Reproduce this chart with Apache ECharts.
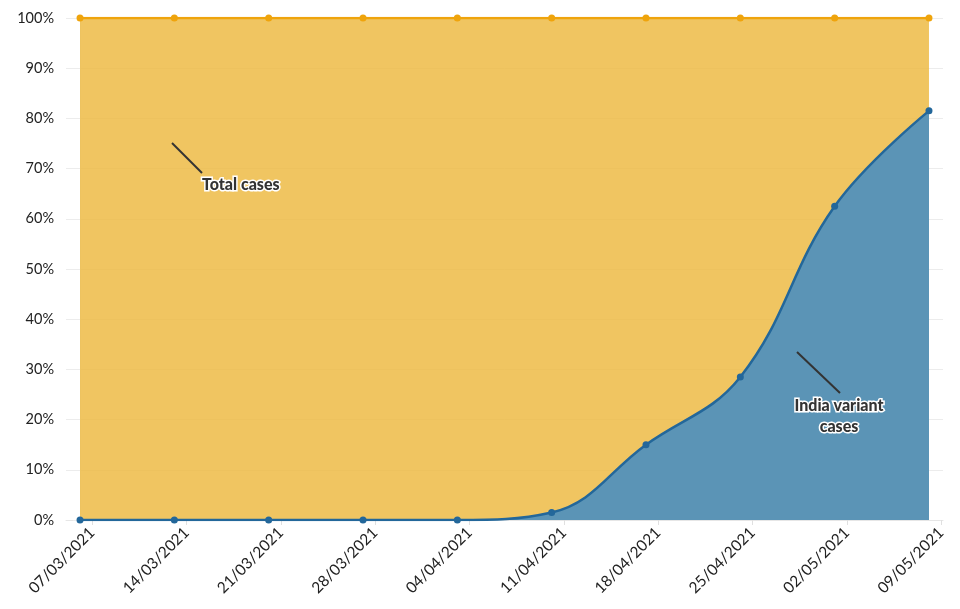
<!DOCTYPE html>
<html><head><meta charset="utf-8">
<script src="https://cdn.jsdelivr.net/npm/echarts@6/dist/echarts.min.js"></script>
<style>html,body{margin:0;padding:0;background:#fff}#c{width:960px;height:609px}</style>
</head><body><div id="c"></div>
<script>
const dates = ['07/03/2021','14/03/2021','21/03/2021','28/03/2021','04/04/2021','11/04/2021','18/04/2021','25/04/2021','02/05/2021','09/05/2021'];
const totalCases = [100,100,100,100,100,100,100,100,100,100];
const indiaVariant = [0,0,0,0,0,1.5,15,28.5,62.5,81.5];
const yTicks = [0,10,20,30,40,50,60,70,80,90,100];

const dayOf = i => i * 7;
const tickShift = 0.9;
const tickVals = dates.map((d, i) => dayOf(i) + tickShift);
const font = 'Lato, "Noto Sans", sans-serif';

const chart = echarts.init(document.getElementById('c'), null, {renderer: 'canvas'});
chart.setOption({
  animation: false,
  grid: {left: 66, right: 17, top: 18, bottom: 89, containLabel: false},
  xAxis: {
    type: 'value', min: -1.04, max: 64.04,
    axisLine: {show: true, lineStyle: {color: '#e6e6e6'}},
    axisTick: {show: true, customValues: tickVals, length: 5, lineStyle: {color: '#e0e0e0'}},
    splitLine: {show: false},
    axisLabel: {
      customValues: tickVals, rotate: 45, color: '#222', fontSize: 15.5, fontFamily: font, margin: 10,
      formatter: v => { const i = Math.round((v - tickShift) / 7); return dates[i] || ''; }
    }
  },
  yAxis: {
    type: 'value', min: 0, max: 100, interval: 10,
    axisLine: {show: true, lineStyle: {color: '#ececec'}},
    axisTick: {show: true, length: 7, lineStyle: {color: '#ececec'}},
    splitLine: {show: true, lineStyle: {color: '#ececec'}},
    axisLabel: {color: '#222', fontSize: 14.5, fontFamily: font, margin: 12, formatter: v => yTicks.includes(v) ? v + '%' : ''}
  },
  series: [
    {
      name: 'Total cases', type: 'line',
      data: totalCases.map((v, i) => [dayOf(i), v]),
      symbol: 'circle', symbolSize: 7,
      itemStyle: {color: '#efa40c'},
      lineStyle: {color: '#efa40c', width: 2.5},
      areaStyle: {color: 'rgb(237,184,62)', opacity: 0.82},
      z: 2
    },
    {
      name: 'India variant cases', type: 'line',
      data: indiaVariant.map((v, i) => [dayOf(i), v]),
      smooth: 0.4,
      symbol: 'circle', symbolSize: 7,
      itemStyle: {color: '#23679a'},
      lineStyle: {color: '#23679a', width: 2.5},
      areaStyle: {color: 'rgb(91,148,182)', opacity: 1},
      z: 3
    }
  ],
  graphic: [
    {type: 'line', shape: {x1: 172, y1: 143, x2: 202, y2: 173}, style: {stroke: '#333', lineWidth: 2}, z: 100},
    {type: 'text', x: 202, y: 185, style: {text: 'Total cases', font: '900 16px ' + font, fill: '#333', stroke: '#fff', lineWidth: 3, verticalAlign: 'middle'}, z: 100},
    {type: 'line', shape: {x1: 797, y1: 352, x2: 840, y2: 393}, style: {stroke: '#333', lineWidth: 2}, z: 100},
    {type: 'text', x: 839, y: 416, style: {text: 'India variant\ncases', font: '900 16px ' + font, fill: '#333', stroke: '#fff', lineWidth: 3, align: 'center', verticalAlign: 'middle', lineHeight: 21}, z: 100}
  ]
});
</script>
</body></html>
